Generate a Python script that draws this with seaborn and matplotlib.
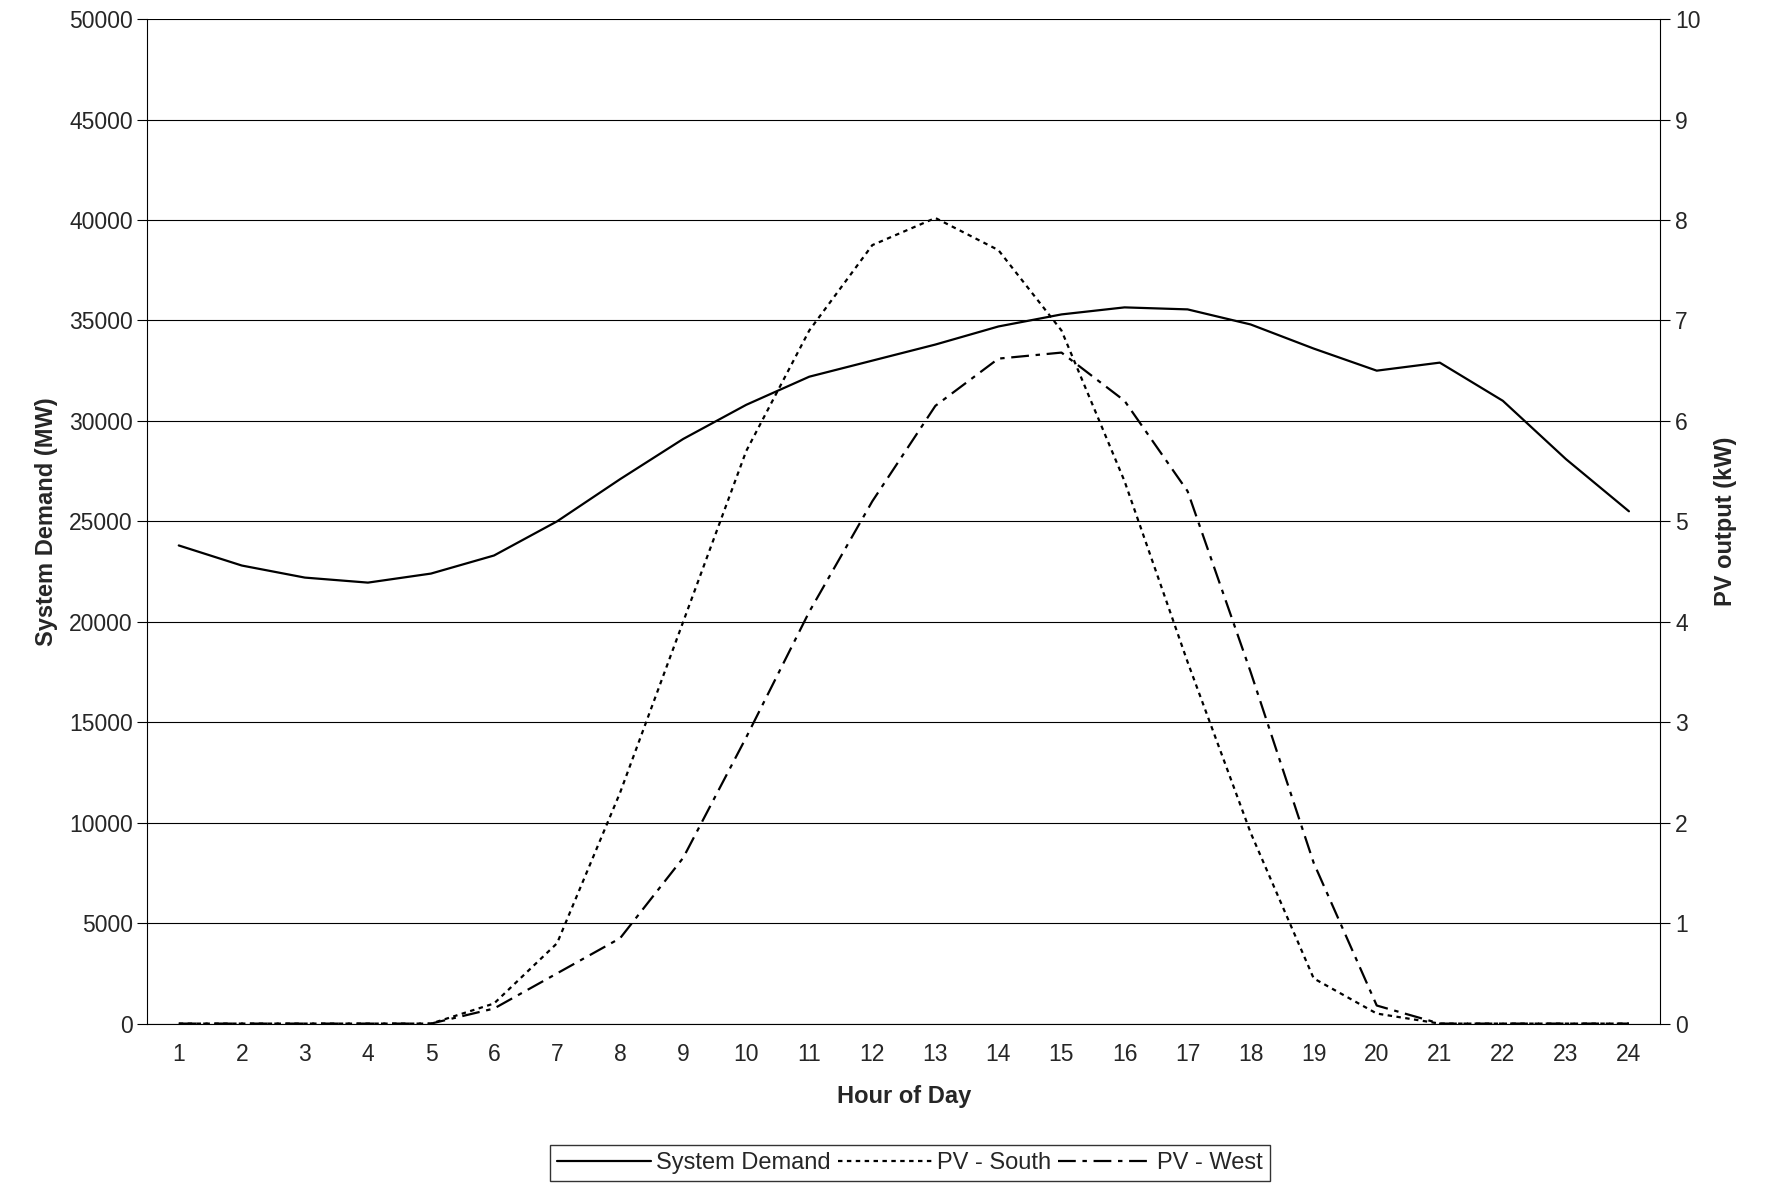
import numpy as np
import matplotlib
matplotlib.use("Agg")
import matplotlib.pyplot as plt
import seaborn as sns

hours = list(range(1, 25))
demand = [23800, 22800, 22200, 21950, 22400, 23300, 25000, 27100, 29100, 30800,
          32200, 33000, 33800, 34700, 35300, 35650, 35550, 34800, 33600, 32500,
          32900, 31000, 28100, 25500]
pv_south = [0, 0, 0, 0, 0, 0.2, 0.8, 2.3, 4.0, 5.7, 6.9, 7.75, 8.02, 7.7, 6.9,
            5.4, 3.6, 1.9, 0.45, 0.1, 0, 0, 0, 0]
pv_west = [0, 0, 0, 0, 0, 0.15, 0.5, 0.85, 1.65, 2.85, 4.1, 5.2, 6.15, 6.62, 6.68,
           6.2, 5.3, 3.5, 1.6, 0.18, 0, 0, 0, 0]

sns.set_style("white")
plt.rcParams["font.family"] = ["Liberation Sans", "DejaVu Sans"]
plt.rcParams["font.size"] = 16.5

fig = plt.figure(figsize=(17.74, 11.93), dpi=100)
ax = fig.add_axes([0.083, 0.142, 0.853, 0.842])
ax2 = ax.twinx()

sns.lineplot(x=hours, y=demand, ax=ax, color="black", lw=1.6, legend=False)
sns.lineplot(x=hours, y=pv_south, ax=ax2, color="black", lw=1.6, linestyle=(0, (2, 2)), legend=False)
sns.lineplot(x=hours, y=pv_west, ax=ax2, color="black", lw=1.6, linestyle=(0, (8, 3, 2, 3)), legend=False)

ax.set_xlim(0.5, 24.5)
ax.set_ylim(0, 50000)
ax2.set_ylim(0, 10)
ax.set_yticks(range(0, 50001, 5000))
ax2.set_yticks(range(0, 11))
ax.set_xticks(np.arange(0.5, 25, 1))
ax.set_xticklabels([])
ax.set_xticks(hours, minor=True)
ax.set_xticklabels([str(h) for h in hours], minor=True)
ax.tick_params(axis="x", which="minor", length=0, pad=14)
ax.tick_params(axis="x", which="major", length=7, direction="out", color="black")
ax.tick_params(axis="y", length=7, direction="out", color="black", left=True)
ax2.tick_params(axis="y", length=7, direction="out", color="black", right=True)
ax.yaxis.grid(True, color="black", lw=0.8)
ax.xaxis.grid(False)
for a in (ax, ax2):
    for s in a.spines.values():
        s.set_visible(False)
ax.spines["left"].set_visible(True)
ax.spines["bottom"].set_visible(True)
ax2.spines["right"].set_visible(True)
for s in ("left", "bottom"):
    ax.spines[s].set_color("black")
ax2.spines["right"].set_color("black")

ax.set_xlabel("Hour of Day", fontweight="bold", fontsize=17, labelpad=14)
ax.set_ylabel("System Demand (MW)", fontweight="bold", fontsize=17, labelpad=8)
ax2.set_ylabel("PV output (kW)", fontweight="bold", fontsize=17, labelpad=10)

handles = ax.get_lines()[:1] + ax2.get_lines()[:2]
fig.legend(handles, ["System Demand", "PV - South", "PV - West"], loc="lower center",
           bbox_to_anchor=(0.513, 0.0), ncol=3, frameon=True, fancybox=False,
           edgecolor="black", fontsize=17, handlelength=4, columnspacing=0.3,
           handletextpad=0.2, borderpad=0.3)

fig.savefig("out.png", dpi=100, facecolor="white")
